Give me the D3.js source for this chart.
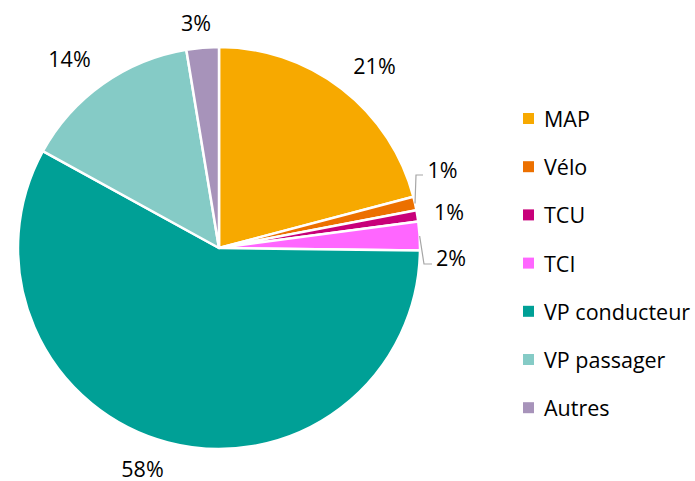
<!DOCTYPE html>
<html><head><meta charset="utf-8">
<script src="https://cdn.jsdelivr.net/npm/d3@7"></script>
<style>body{margin:0;background:#fff}svg{display:block}text{font-family:"Open Sans",sans-serif;fill:#000}</style>
</head><body><svg id="c" width="695" height="481"></svg>
<script>
const categories = ["MAP","Vélo","TCU","TCI","VP conducteur","VP passager","Autres"];
const values = [20.9, 1.1, 0.9, 2.3, 57.8, 14.4, 2.6];
const labels = ["21%","1%","1%","2%","58%","14%","3%"];
const colors = ["#F7A900","#EC7000","#C8007A","#FF66FF","#00A096","#85CBC6","#A793BA"];

const svg = d3.select("#c");
const cx = 219, cy = 248, R = 201;
const g = svg.append("g").attr("transform", `translate(${cx},${cy})`);
const pie = d3.pie().sort(null).value(d => d);
const arcs = pie(values);
const arc = d3.arc().innerRadius(0).outerRadius(R);
g.selectAll("path.s").data(arcs).join("path").attr("class","s")
  .attr("d", arc).attr("fill", (d,i)=>colors[i])
  .attr("stroke","#fff").attr("stroke-width",2.5).attr("stroke-linejoin","round");

const edgeArc = d3.arc().innerRadius(R).outerRadius(R);
const fs = 21.5;
// label placement (offsets of label centres from the pie centre)
const labelPos = [[155.5,-181.5],[223.5,-77.5],[230,-35.5],[232,10],[-76.5,221],[-149.5,-188.5],[-23,-225]];
arcs.forEach((a,i)=>{
  const p = labelPos[i];
  g.append("text").attr("x",p[0]).attr("y",p[1]+7.5).attr("text-anchor","middle")
    .attr("font-size",fs).text(labels[i]);
});
// leader lines
function leader(i, pts){
  const e = edgeArc.centroid(arcs[i]);
  g.append("polyline").attr("points",[e].concat(pts).map(p=>p.join(",")).join(" "))
   .attr("fill","none").attr("stroke","#A6A6A6").attr("stroke-width",1.2);
}
leader(1, [[197,-73],[204,-73]]);
leader(3, [[205,16],[213,16]]);

// legend
const lg = svg.append("g");
const ly0 = 118.5, ldy = 48.2;
categories.forEach((c,i)=>{
  const y = ly0 + i*ldy;
  lg.append("rect").attr("x",523).attr("y",y-5.5).attr("width",11).attr("height",11).attr("fill",colors[i]);
  lg.append("text").attr("x",544).attr("y",y+8.5).attr("font-size",fs).text(c);
});
</script></body></html>
